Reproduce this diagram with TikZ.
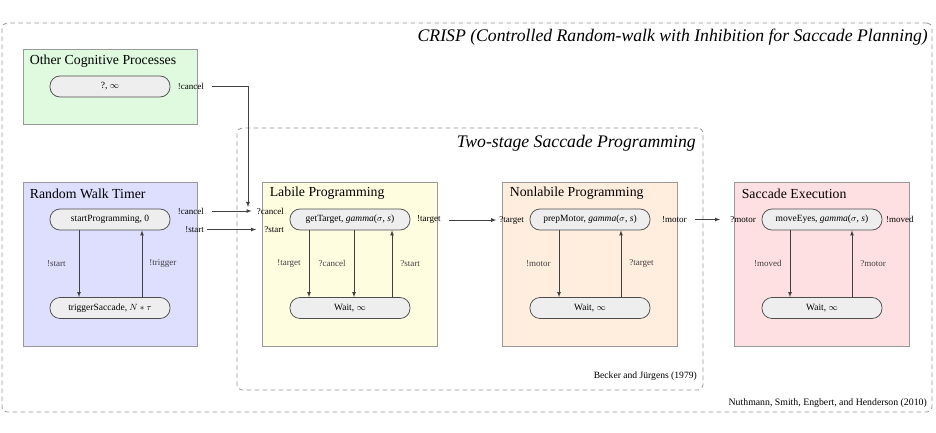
\documentclass[tikz,border=0pt]{standalone}
\usepackage{fontspec}
\setmainfont{Liberation Serif}
\usetikzlibrary{positioning}

\definecolor{ocpgreen}{RGB}{224,250,224}
\definecolor{rwtblue}{RGB}{222,222,255}
\definecolor{labyellow}{RGB}{255,253,224}
\definecolor{nonpeach}{RGB}{255,238,222}
\definecolor{sacpink}{RGB}{255,224,226}
\definecolor{statefill}{RGB}{238,238,238}
\definecolor{framegray}{RGB}{150,150,150}

\begin{document}
\begin{tikzpicture}[x=1pt,y=-1pt,
	frame/.style={draw=framegray, line width=0.8pt, dash pattern=on 4.5pt off 3.5pt, rounded corners=5pt, inner sep=0pt},
	proc/.style={draw=gray!80, line width=0.8pt, minimum width=175pt, minimum height=164pt, inner sep=0pt},
	proctitle/.style={font=\fontsize{13.8}{15}\selectfont, anchor=west, inner sep=0pt},
	state/.style={draw=black!70, fill=statefill, line width=0.75pt, rounded corners=10pt, minimum width=120pt, minimum height=21pt, inner sep=0pt, font=\fontsize{9.5}{11}\selectfont},
	port/.style={font=\fontsize{9}{10}\selectfont, inner sep=0pt},
	tlabel/.style={font=\fontsize{9}{10}\selectfont, inner sep=0pt},
	arr/.style={-latex, black!75, line width=0.75pt}]

	\useasboundingbox (0,0) rectangle (936,432);

	% frames
	\node [frame, minimum width=930pt, minimum height=389pt] (crisp) at (467,217.5) {};
	\node [frame, minimum width=466pt, minimum height=262pt] (twostage) at (470,259) {};
	\node [anchor=east, inner sep=0pt, font=\fontsize{17.7}{19}\selectfont\itshape] (crispTitle) at (928,37) {CRISP (Controlled Random-walk with Inhibition for Saccade Planning)};
	\node [anchor=east, inner sep=0pt, font=\fontsize{17.7}{19}\selectfont\itshape] (twostageTitle) at (696,143) {Two-stage Saccade Programming};
	\node [anchor=east, inner sep=0pt, font=\fontsize{9.6}{11}\selectfont] (becker) at (697,376) {Becker and Jürgens (1979)};
	\node [anchor=east, inner sep=0pt, font=\fontsize{9.8}{11}\selectfont] (nuthmann) at (927,403) {Nuthmann, Smith, Engbert, and Henderson (2010)};

	% process boxes
	\node [proc, fill=ocpgreen, minimum width=174pt, minimum height=75pt] (ocp) at (110,86.5) {};
	\node [proc, fill=rwtblue, minimum width=174pt] (rwt) at (110,264) {};
	\node [proc, fill=labyellow] (lab) at (349.5,264) {};
	\node [proc, fill=nonpeach] (non) at (589.5,264) {};
	\node [proc, fill=sacpink] (sac) at (821.5,264) {};

	\node [proctitle] (ocpTitle) at ([xshift=7pt,yshift=-13pt]ocp.north west) {Other Cognitive Processes};
	\node [proctitle] (rwtTitle) at ([xshift=7pt,yshift=-12pt]rwt.north west) {Random Walk Timer};
	\node [proctitle] (labTitle) at ([xshift=8pt,yshift=-12pt]lab.north west) {Labile Programming};
	\node [proctitle] (nonTitle) at ([xshift=8pt,yshift=-12pt]non.north west) {Nonlabile Programming};
	\node [proctitle] (sacTitle) at ([xshift=8pt,yshift=-12pt]sac.north west) {Saccade Execution};

	% states
	\node [state] (ocpIdle) at (110,86.5) {?, $\infty$};
	\node [state] (rwtStart) at (110,219.5) {startProgramming, 0};
	\node [state] (rwtTrigger) at (110,308) {triggerSaccade, $N*\tau$};
	\node [state] (labGet) at (350,219.5) {getTarget, \textit{gamma}($\sigma$, \textit{s})};
	\node [state] (labWait) at (350,308) {Wait, $\infty$};
	\node [state] (nonPrep) at (590,219.5) {prepMotor, \textit{gamma}($\sigma$, \textit{s})};
	\node [state] (nonWait) at (590,308) {Wait, $\infty$};
	\node [state] (sacMove) at (822,219.5) {moveEyes, \textit{gamma}($\sigma$, \textit{s})};
	\node [state] (sacWait) at (822,308) {Wait, $\infty$};

	% transitions inside the boxes
	\draw [arr] ([xshift=-31pt]rwtStart.south) -- node [tlabel, left=13pt] (tStart) {!start} ([xshift=-31pt]rwtTrigger.north);
	\draw [arr] ([xshift=32pt]rwtTrigger.north) -- node [tlabel, right=7pt] (tTrigger) {!trigger} ([xshift=32pt]rwtStart.south);

	\draw [arr] ([xshift=-41pt]labGet.south) -- node [tlabel, left=8pt] (tTarget) {!target} ([xshift=-41pt]labWait.north);
	\draw [arr] ([xshift=4pt]labGet.south) -- node [tlabel, left=8pt] (tCancel) {?cancel} ([xshift=4pt]labWait.north);
	\draw [arr] ([xshift=42pt]labWait.north) -- node [tlabel, right=8pt] (tStartIn) {?start} ([xshift=42pt]labGet.south);

	\draw [arr] ([xshift=-31pt]nonPrep.south) -- node [tlabel, left=8pt] (tMotor) {!motor} ([xshift=-31pt]nonWait.north);
	\draw [arr] ([xshift=31pt]nonWait.north) -- node [tlabel, right=8pt] (tTargetIn) {?target} ([xshift=31pt]nonPrep.south);

	\draw [arr] ([xshift=-32pt]sacMove.south) -- node [tlabel, left=8pt] (tMoved) {!moved} ([xshift=-32pt]sacWait.north);
	\draw [arr] ([xshift=30pt]sacWait.north) -- node [tlabel, right=8pt] (tMotorIn) {?motor} ([xshift=30pt]sacMove.south);

	% ports
	\node [port, anchor=east] (ocpCancel) at (204,86) {!cancel};
	\node [port, anchor=east] (rwtCancel) at (204,211) {!cancel};
	\node [port, anchor=east] (rwtStartOut) at (204,229.5) {!start};
	\node [port, anchor=east] (labCancelIn) at (284,211) {?cancel};
	\node [port, anchor=east] (labStartIn) at (284,229.5) {?start};
	\node [port, anchor=west] (labTarget) at (417,220) {!target};
	\node [port, anchor=east] (nonTargetIn) at (524,220) {?target};
	\node [port, anchor=west] (nonMotor) at (662,219.5) {!motor};
	\node [port, anchor=east] (sacMotorIn) at (756,219.5) {?motor};
	\node [port, anchor=west] (sacMoved) at (886,219.5) {!moved};

	\coordinate (cancelDrop) at (248,207);

	% connections between the boxes
	\draw [arr] ([xshift=8pt]ocpCancel.east) -| (cancelDrop);
	\draw [arr, shorten <=8pt, shorten >=5pt] (rwtCancel.east) -- (labCancelIn.west);
	\draw [arr, shorten <=3pt, shorten >=8pt] (rwtStartOut.east) -- (labStartIn.west);
	\draw [arr, shorten <=8pt, shorten >=3pt] (labTarget.east) -- (nonTargetIn.west);
	\draw [arr, shorten <=8pt, shorten >=10pt] (nonMotor.east) -- (sacMotorIn.west);
\end{tikzpicture}
\end{document}
